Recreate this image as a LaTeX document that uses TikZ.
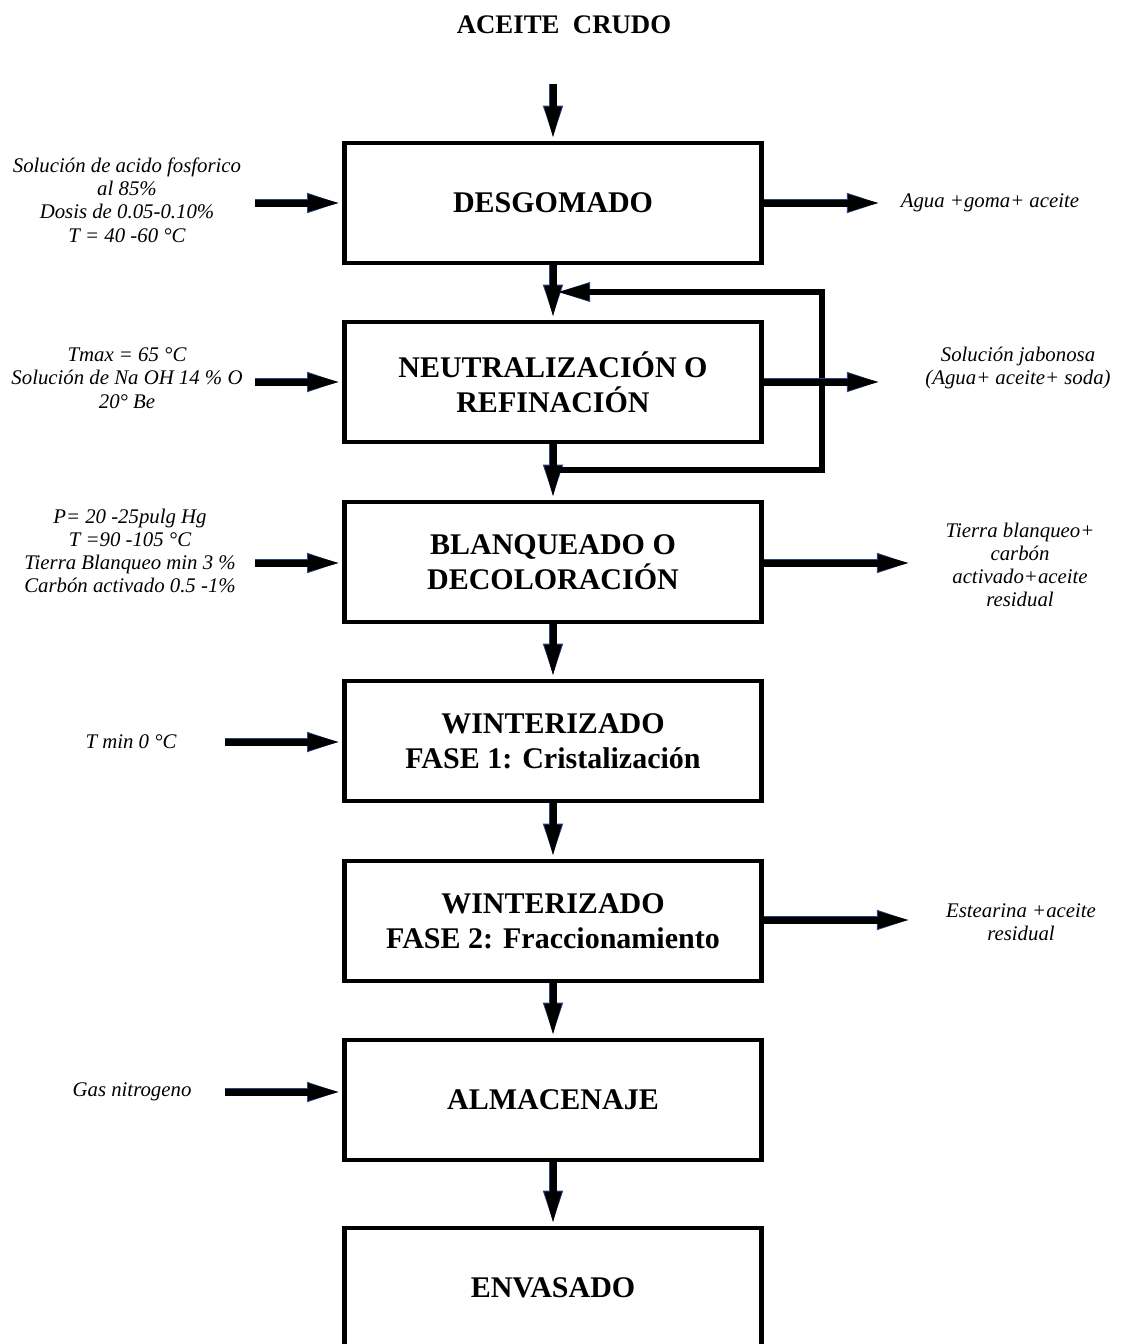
\documentclass[tikz,border=0pt]{standalone}
\usepackage{fontspec}
\setmainfont{Liberation Serif}
\usetikzlibrary{arrows.meta, positioning}
\definecolor{flowedge}{RGB}{45,70,130}

\tikzset{
  stage/.style={draw, line width=2.3pt, minimum width=208.5pt, minimum height=60pt,
                align=center, font=\fontsize{15}{17.5}\selectfont\bfseries},
  note/.style={align=center, font=\fontsize{10.4}{11.6}\selectfont\itshape},
  flow/.style={line width=3.5pt, -{Triangle[length=17pt,width=7.5pt]},
               preaction={draw=flowedge, line width=4.3pt, -{Triangle[length=17.6pt,width=8.6pt]}}},
  recycle/.style={line width=2.6pt, -{Triangle[length=16pt,width=8pt]},
               preaction={draw=flowedge, line width=3.3pt, -{Triangle[length=16.6pt,width=9pt]}}},
}

\begin{document}
\begin{tikzpicture}[x=0.5pt, y=-0.5pt]
  \fill[white] (0,0) rectangle (1129,1344);
  \useasboundingbox (0,0) rectangle (1129,1344);

  \node[font=\fontsize{13.4}{16}\selectfont\bfseries] (crudo) at (564,25) {ACEITE\ \ CRUDO};

  % etapas del proceso
  \node[stage] (desgomado) at (553,203) {DESGOMADO};
  \node[stage] (neutral)   at (553,382) {NEUTRALIZACIÓN O\\REFINACIÓN};
  \node[stage] (blanqueo)  at (553,562) {BLANQUEADO O\\DECOLORACIÓN};
  \node[stage] (wint1)     at (553,741) {WINTERIZADO\\FASE 1: Cristalización};
  \node[stage] (wint2)     at (553,921) {WINTERIZADO\\FASE 2: Fraccionamiento};
  \node[stage] (almacen)   at (553,1100) {ALMACENAJE};
  \node[stage] (envasado)  at (553,1288) {ENVASADO};

  % entradas
  \node[note] (acido) at (127,200) {Solución de acido fosforico\\al 85\%\\Dosis de 0.05-0.10\%\\T = 40 -60 °C};
  \node[note] (soda)  at (127,378) {Tmax = 65 °C\\Solución de Na OH 14 \% O\\20° Be};
  \node[note] (tierra) at (130,551) {P= 20 -25pulg Hg\\T =90 -105 °C\\Tierra Blanqueo min 3 \%\\Carbón activado 0.5 -1\%};
  \node[note] (frio)  at (131,742) {T min 0 °C};
  \node[note] (gas)   at (132,1092) {Gas nitrogeno};

  % salidas
  \node[note] (goma)   at (990,203) {Agua +goma+ aceite};
  \node[note] (jabon)  at (1018,368) {Solución jabonosa\\(Agua+ aceite+ soda)};
  \node[note] (residuo) at (1020,565) {Tierra blanqueo+\\carbón\\activado+aceite\\residual};
  \node[note] (estearina) at (1021,922) {Estearina +aceite\\residual};

  \coordinate (top) at (553,84);
  \coordinate (in1) at (255,203);
  \coordinate (in2) at (255,382);
  \coordinate (in3) at (255,563);
  \coordinate (in4) at (225,742);
  \coordinate (in5) at (225,1092);
  \coordinate (out1) at (882,203);
  \coordinate (out2) at (882,382);
  \coordinate (out3) at (912,563);
  \coordinate (out4) at (912,920);
  \coordinate (loopA) at (553,470);
  \coordinate (loopB) at (822,292);
  \coordinate (loopC) at (557,292);

  % flujo principal
  \draw[flow] (top) -- (desgomado.north);
  \draw[flow] (desgomado) -- (neutral);
  \draw[flow] (neutral) -- (blanqueo);
  \draw[flow] (blanqueo) -- (wint1);
  \draw[flow] (wint1) -- (wint2);
  \draw[flow] (wint2) -- (almacen);
  \draw[flow] (almacen) -- (envasado);

  % reproceso
  \draw[recycle] (loopA) -| (loopB) -- (loopC);

  \draw[flow] (in1) -- (in1 -| desgomado.west);
  \draw[flow] (in2) -- (in2 -| neutral.west);
  \draw[flow] (in3) -- (in3 -| blanqueo.west);
  \draw[flow] (in4) -- (in4 -| wint1.west);
  \draw[flow] (in5) -- (in5 -| almacen.west);

  \draw[flow] (out1 -| desgomado.east) -- (out1);
  \draw[flow] (out2 -| neutral.east) -- (out2);
  \draw[flow] (out3 -| blanqueo.east) -- (out3);
  \draw[flow] (out4 -| wint2.east) -- (out4);
\end{tikzpicture}
\end{document}
